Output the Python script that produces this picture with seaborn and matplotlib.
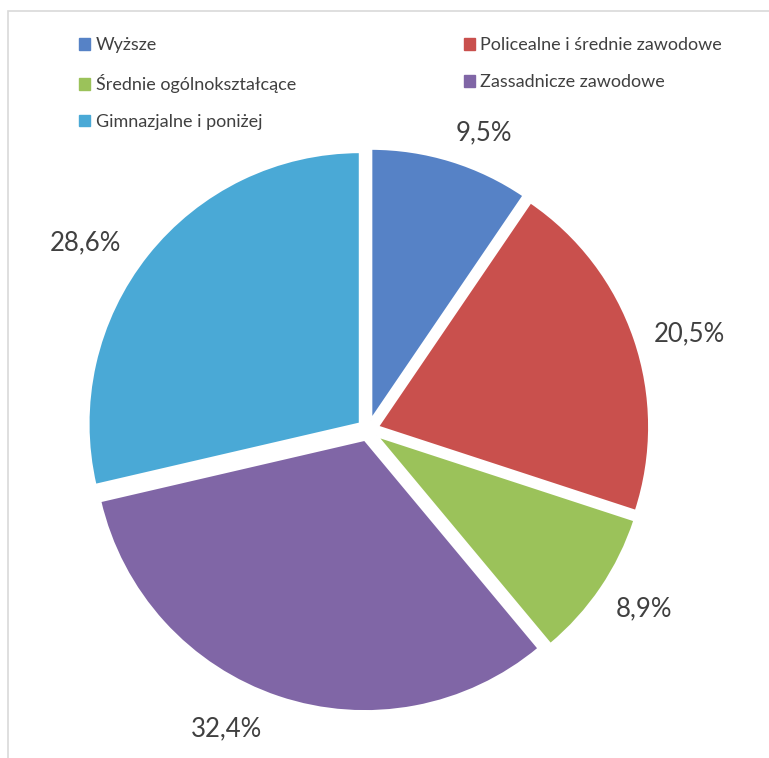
import matplotlib
matplotlib.use("Agg")
import matplotlib.pyplot as plt
import matplotlib.patches as mpatches
import seaborn as sns

categories = ["Wyższe", "Policealne i średnie zawodowe", "Średnie ogólnokształcące",
              "Zassadnicze zawodowe", "Gimnazjalne i poniżej"]
values = [9.5, 20.5, 8.9, 32.4, 28.6]
colors = ["#5682c6", "#c9504d", "#9bc25a", "#8066a6", "#4aa9d6"]

sns.set_style("white")
plt.rcParams["font.family"] = ["Lato", "DejaVu Sans"]

fig = plt.figure(figsize=(7.69, 7.58), dpi=100)
ax = fig.add_axes([0, 0, 1, 1])

wedges, texts, autotexts = ax.pie(
    values, colors=colors, startangle=90, counterclock=False,
    center=(368, 758 - 430), radius=272, explode=[10] * 5,
    autopct=lambda p: f"{p:.1f}%".replace(".", ","), pctdistance=1.2,
    wedgeprops=dict(edgecolor="white", linewidth=2),
    textprops=dict(fontsize=18.5, color="#404040"),
)
# pie resets the limits, so put pixel-like limits back afterwards
ax.set_xlim(0, 769)
ax.set_ylim(0, 758)
ax.set_aspect("auto")
ax.axis("off")

# nudge the percentage labels a bit, like Excel placed them
nudges = [(17, -24), (3, -12), (-2, 10), (-34, 20), (-19, -22)]
for t, (dx, dy) in zip(autotexts, nudges):
    x, y = t.get_position()
    t.set_position((x + dx, y + dy))

# light frame like the original screenshot
ax.add_patch(mpatches.Rectangle((8, -5), 800, 758 - 11 + 5, fill=False,
                                edgecolor="#d9d9d9", linewidth=1.2))

order = [0, 2, 4, 1, 3]
handles = [mpatches.Patch(color=colors[i], label=categories[i]) for i in order]
ax.legend(handles=handles, ncol=2, loc="upper left", bbox_to_anchor=(0.082, 0.972),
          frameon=False, fontsize=13, handlelength=0.6, handleheight=0.6,
          handletextpad=0.3, labelspacing=1.15, columnspacing=9.3, labelcolor="#404040")

fig.savefig("out.png", dpi=100)
